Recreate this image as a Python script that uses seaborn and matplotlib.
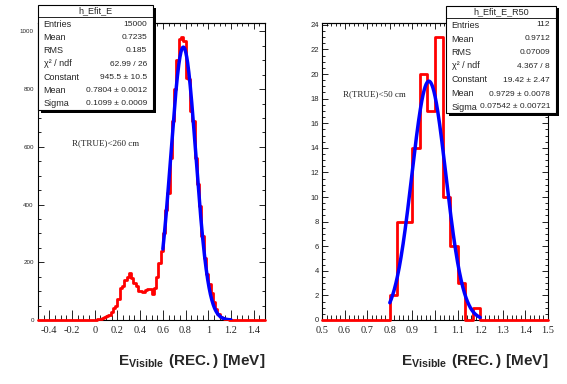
import matplotlib
matplotlib.use("Agg")
import matplotlib.pyplot as plt
import seaborn as sns
import numpy as np
import pandas as pd
from matplotlib.patches import Rectangle
from matplotlib.lines import Line2D
from matplotlib.ticker import MultipleLocator, NullFormatter

# ---- data ----
# left: h_Efit_E, 100 bins from -0.5 to 1.5 (only non-empty bins from 0.0 listed)
left_lo, left_hi, left_nbins = -0.5, 1.5, 100
left_first_bin = 25   # bin starting at 0.00
left_counts = [1, 3, 5, 8, 11, 15, 18, 28, 42, 50,
               72, 112, 118, 138, 150, 162, 145, 128, 118, 102,
               100, 98, 104, 108, 106, 90, 112, 150, 196, 240,
               300, 380, 440, 560, 690, 800, 900, 975, 982, 965,
               840, 836, 725, 690, 560, 470, 395, 290, 215, 160,
               125, 92, 62, 38, 20, 12, 7, 4, 2, 1]
left_fit = (945.5, 0.7804, 0.1099)   # constant, mean, sigma
left_fit_range = (0.6, 1.2)

# right: h_Efit_E_R50, 30 bins from 0.5 to 1.5
right_lo, right_hi, right_nbins = 0.5, 1.5, 30
right_first_bin = 9   # bin starting at 0.80
right_counts = [2, 8, 8, 14, 20, 17, 23, 10, 6, 3, 0, 1]
right_fit = (19.42, 0.9729, 0.07542)
right_fit_range = (0.8, 1.2)

stat_labels = ["Entries", "Mean", "RMS", "χ² / ndf", "Constant", "Mean", "Sigma"]
left_stats = ["15000", "0.7235", "0.185", "62.99 / 26",
              "945.5 ± 10.5", "0.7804 ± 0.0012", "0.1099 ± 0.0009"]
right_stats = ["112", "0.9712", "0.07009", "4.367 / 8",
               "19.42 ± 2.47", "0.9729 ± 0.0078", "0.07542 ± 0.00721"]

W, H = 567, 384

sns.set_style("white")
plt.rcParams["font.family"] = ["Liberation Sans", "DejaVu Sans"]
plt.rcParams["mathtext.fontset"] = "custom"
plt.rcParams["mathtext.bf"] = "Liberation Sans:bold"
plt.rcParams["mathtext.rm"] = "Liberation Sans"

fig = plt.figure(figsize=(W / 100, H / 100), dpi=100)
fig.patch.set_facecolor("white")


def px(x, y):
    return x / W, 1 - y / H


def full_counts(nbins, first, counts):
    c = np.zeros(nbins)
    c[first:first + len(counts)] = counts
    return c


def draw_panel(ax, lo, hi, nbins, first, counts, fit, frange):
    edges = np.linspace(lo, hi, nbins + 1)
    centers = (edges[:-1] + edges[1:]) / 2
    df = pd.DataFrame({"E": centers, "n": full_counts(nbins, first, counts)})
    sns.histplot(data=df, x="E", weights="n", bins=list(edges), element="step", fill=False,
                 color="#ff0000", linewidth=2.0, ax=ax)
    for ln in ax.lines + list(ax.collections) + list(ax.patches):
        ln.set_clip_on(False)
        ln.set_zorder(3)
    const, mu, sig = fit
    xs = np.linspace(frange[0], frange[1], 300)
    ys = const * np.exp(-0.5 * ((xs - mu) / sig) ** 2)
    sns.lineplot(x=xs, y=ys, color="#0000ff", linewidth=2.5, ax=ax, sort=False, zorder=4)
    ax.set_xlim(lo, hi)
    ax.set_ylabel("")
    ax.set_xlabel("")
    for s in ax.spines.values():
        s.set_color("black")
        s.set_linewidth(0.8)
    ax.tick_params(which="both", direction="in", top=False, right=True,
                   bottom=True, left=True, color="black", width=0.6)
    ax.tick_params(axis="x", which="major", length=7, pad=4)
    ax.tick_params(axis="x", which="minor", length=3.6)
    ax.tick_params(axis="y", which="major", length=4.5)
    ax.tick_params(axis="y", which="minor", length=2.3)
    ax.text(1.0, -0.138, r"$\mathbf{E}_{\mathbf{Visible}}\ \mathbf{(REC.)\ [MeV]}$",
            transform=ax.transAxes, ha="right", va="center", fontsize=11)


def top_ticks(ax, major, minor):
    sec = ax.secondary_xaxis("top")
    sec.xaxis.set_major_locator(MultipleLocator(major))
    sec.xaxis.set_minor_locator(MultipleLocator(minor))
    sec.xaxis.set_major_formatter(NullFormatter())
    sec.tick_params(which="both", direction="in", color="black", width=0.6)
    sec.tick_params(which="major", length=4.5)
    sec.tick_params(which="minor", length=2.3)
    sec.spines["top"].set_linewidth(0.8)


ax1 = fig.add_axes([38 / W, 1 - 320 / H, 227 / W, 297 / H])
ax2 = fig.add_axes([322 / W, 1 - 320 / H, 226 / W, 297 / H])

draw_panel(ax1, left_lo, left_hi, left_nbins, left_first_bin, left_counts,
           left_fit, left_fit_range)
ax1.set_ylim(0, 1029)
ax1.xaxis.set_minor_locator(MultipleLocator(0.05))
ax1.yaxis.set_major_locator(MultipleLocator(200))
ax1.yaxis.set_minor_locator(MultipleLocator(50))
ax1.set_xticks(np.arange(-0.4, 1.41, 0.2))
ax1.set_xticklabels(["-0.4", "-0.2", "0", "0.2", "0.4", "0.6", "0.8", "1", "1.2", "1.4"],
                    family="Liberation Serif", fontsize=7.5)
ax1.tick_params(axis="x", which="major", pad=4)
ax1.tick_params(axis="y", labelsize=4.5, pad=3)
top_ticks(ax1, 0.2, 0.05)
ax1.text(0.15, 0.596, "R(TRUE)<260 cm", transform=ax1.transAxes,
         family="Liberation Serif", fontsize=6.5, va="center", ha="left")

draw_panel(ax2, right_lo, right_hi, right_nbins, right_first_bin, right_counts,
           right_fit, right_fit_range)
ax2.set_ylim(0, 24.15)
ax2.xaxis.set_minor_locator(MultipleLocator(0.02))
ax2.yaxis.set_major_locator(MultipleLocator(2))
ax2.yaxis.set_minor_locator(MultipleLocator(0.5))
ax2.set_xticks(np.arange(0.5, 1.51, 0.1))
ax2.set_xticklabels(["0.5", "0.6", "0.7", "0.8", "0.9", "1", "1.1", "1.2", "1.3", "1.4", "1.5"],
                    family="Liberation Serif", fontsize=7.5)
ax2.tick_params(axis="x", which="major", pad=4)
ax2.tick_params(axis="y", labelsize=5.5, pad=2)
top_ticks(ax2, 0.1, 0.02)
ax2.text(0.093, 0.761, "R(TRUE)<50 cm", transform=ax2.transAxes,
         family="Liberation Serif", fontsize=6.5, va="center", ha="left")


def stats_box(x0, y0, x1, y1, title, values, row_y, title_y, sep_y):
    sx, sy = px(x0 + 2.5, y1 + 2.5)
    ex, ey = px(x1 + 2.5, y0 + 2.5)
    fig.patches.append(Rectangle((sx, sy), ex - sx, ey - sy, transform=fig.transFigure,
                                 facecolor="black", edgecolor="none", zorder=10))
    bx, by = px(x0, y1)
    tx, ty = px(x1, y0)
    fig.patches.append(Rectangle((bx, by), tx - bx, ty - by, transform=fig.transFigure,
                                 facecolor="white", edgecolor="black", linewidth=0.8, zorder=11))
    lx0, ly = px(x0, sep_y)
    lx1, _ = px(x1, sep_y)
    fig.add_artist(Line2D([lx0, lx1], [ly, ly], transform=fig.transFigure,
                          color="black", linewidth=0.6, zorder=12))
    cx, cy = px((x0 + x1) / 2, title_y)
    fig.text(cx, cy, title, ha="center", va="center", fontsize=6.5, zorder=13)
    for lab, val, yy in zip(stat_labels, values, row_y):
        ax_, ay_ = px(x0 + 5.5, yy)
        vx_, _ = px(x1 - 6, yy)
        fig.text(ax_, ay_, lab, ha="left", va="center", fontsize=6.5, zorder=13)
        fig.text(vx_, ay_, val, ha="right", va="center", fontsize=6.0, zorder=13)


stats_box(38, 5, 153, 110, "h_Efit_E", left_stats,
          [24.3, 37.3, 50.7, 64, 77.3, 90.3, 103.3], 11, 17)
stats_box(446, 6, 556, 113, "h_Efit_E_R50", right_stats,
          [25, 39, 52.5, 66, 80, 94, 107], 12, 18)

fig.savefig("out.png", dpi=100)
